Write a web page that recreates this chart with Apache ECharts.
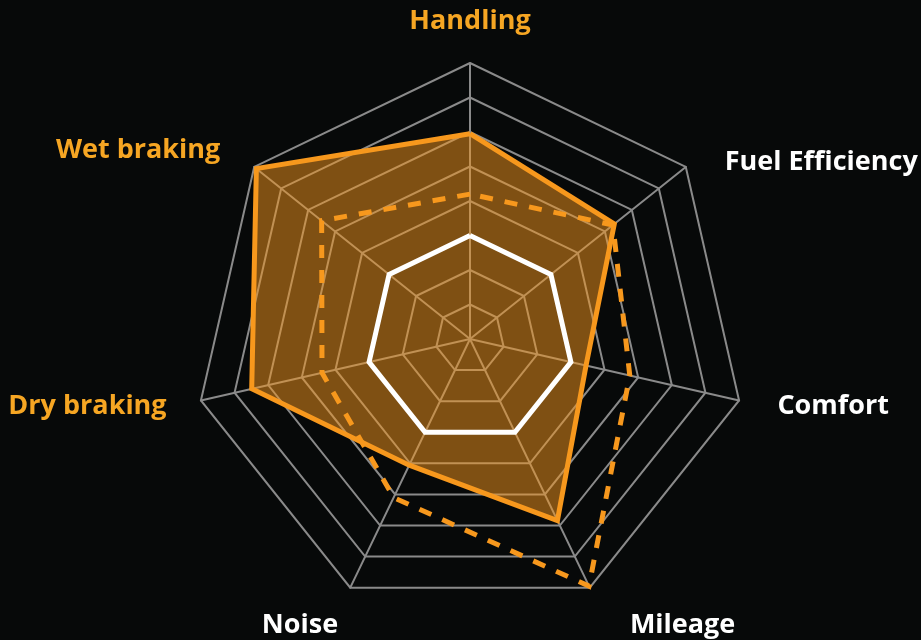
<!DOCTYPE html>
<html>
<head>
<meta charset="utf-8">
<script src="https://cdn.jsdelivr.net/npm/echarts@6/dist/echarts.min.js"></script>
<style>
  html, body { margin: 0; padding: 0; background: #070909; }
  #chart { width: 921px; height: 640px; }
</style>
</head>
<body>
<div id="chart"></div>
<script>
// Indicators in ECharts (counter-clockwise from top) order
var categories = ['Handling', 'Wet braking', 'Dry braking', 'Noise', 'Mileage', 'Comfort', 'Fuel Efficiency'];
var scaleMax = 8;
var filledValues = [5.95, 7.92, 6.49, 4.06, 5.84, 3.45, 5.35];
var dashedValues = [4.2, 5.5, 4.4, 5.1, 7.95, 4.75, 5.3];
var whiteValues  = [3, 3, 3, 3, 3, 3, 3];

var ORANGE = '#f7981d';
var LABEL_ORANGE = '#f6a623';
var GRID = '#8a8a8a';

var labelStyleKey = {
  'Handling': 'h',
  'Wet braking': 'wb',
  'Dry braking': 'db',
  'Noise': 'no',
  'Mileage': 'mi',
  'Comfort': 'co',
  'Fuel Efficiency': 'fe'
};

var chart = echarts.init(document.getElementById('chart'), null, { renderer: 'canvas' });
chart.setOption({
  backgroundColor: '#070909',
  animation: false,
  radar: {
    center: [470, 339],
    radius: 276,
    startAngle: 90,
    splitNumber: 8,
    shape: 'polygon',
    nameGap: 28,
    indicator: categories.map(function (n) { return { name: n, min: 0, max: scaleMax }; }),
    axisName: {
      fontFamily: 'Open Sans',
      fontWeight: 'bold',
      fontSize: 27,
      formatter: function (name) { return '{' + labelStyleKey[name] + '|' + name + '}'; },
      rich: {
        h:  { color: LABEL_ORANGE, fontFamily: 'Open Sans', fontWeight: 'bold', fontSize: 27 },
        wb: { color: LABEL_ORANGE, fontFamily: 'Open Sans', fontWeight: 'bold', fontSize: 27, padding: [2, 12, 0, 0] },
        db: { color: LABEL_ORANGE, fontFamily: 'Open Sans', fontWeight: 'bold', fontSize: 27, padding: [0, 7, 0, 0] },
        no: { color: '#ffffff', fontFamily: 'Open Sans', fontWeight: 'bold', fontSize: 27, padding: [24, 0, 0, 0] },
        mi: { color: '#ffffff', fontFamily: 'Open Sans', fontWeight: 'bold', fontSize: 27, padding: [24, 0, 0, 28] },
        co: { color: '#ffffff', fontFamily: 'Open Sans', fontWeight: 'bold', fontSize: 27, padding: [0, 0, 0, 11] },
        fe: { color: '#ffffff', fontFamily: 'Open Sans', fontWeight: 'bold', fontSize: 27, padding: [26, 0, 0, 17] }
      }
    },
    splitLine: { lineStyle: { color: GRID, width: 2 } },
    splitArea: { show: false },
    axisLine: { lineStyle: { color: GRID, width: 2 } },
    axisTick: { show: false },
    axisLabel: { show: false }
  },
  series: [{
    type: 'radar',
    symbol: 'none',
    silent: true,
    data: [
      {
        value: filledValues,
        itemStyle: { color: ORANGE },
        lineStyle: { color: ORANGE, width: 5, join: 'miter' },
        areaStyle: { color: ORANGE, opacity: 0.5 }
      },
      {
        value: dashedValues,
        itemStyle: { color: ORANGE },
        lineStyle: { color: ORANGE, width: 5, type: [13, 12], join: 'miter' }
      },
      {
        value: whiteValues,
        itemStyle: { color: '#ffffff' },
        lineStyle: { color: '#ffffff', width: 5, join: 'miter' }
      }
    ]
  }]
});
</script>
</body>
</html>
